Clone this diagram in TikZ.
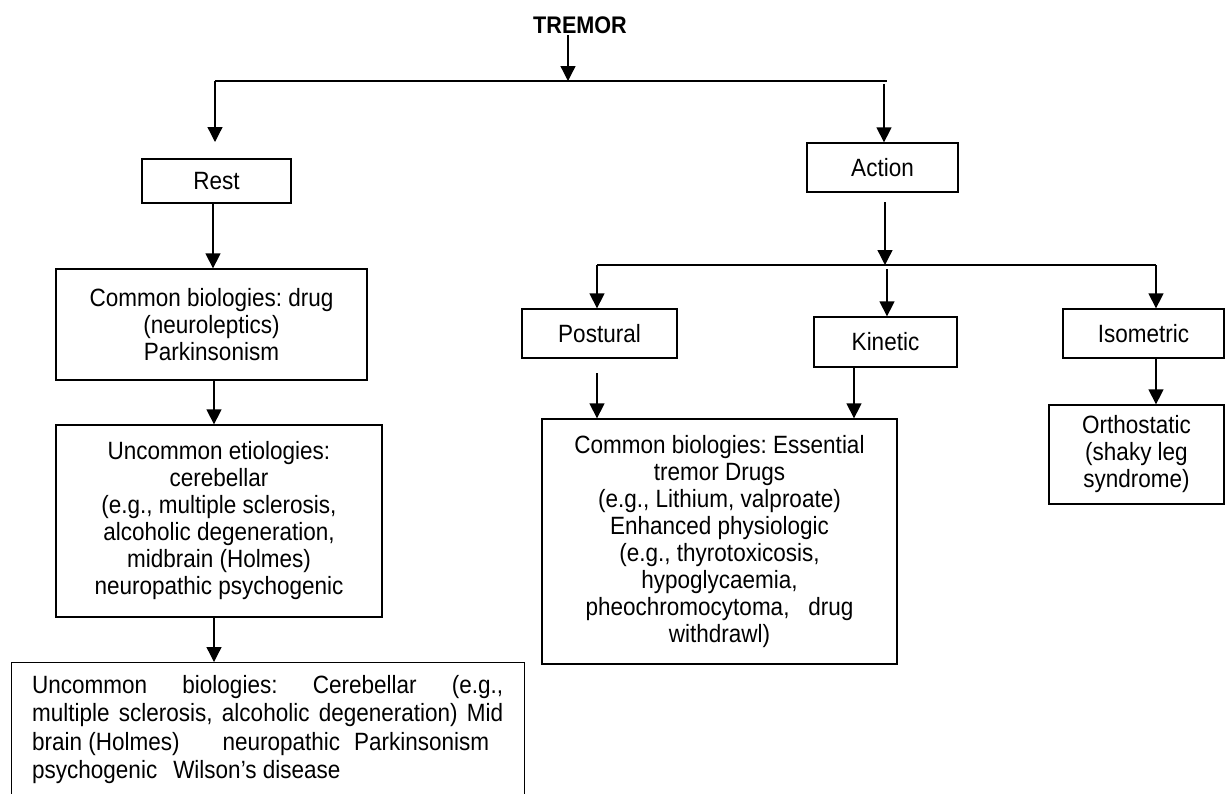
\documentclass[tikz,border=0pt]{standalone}
\usepackage{fontspec}
\setmainfont[FakeStretch=0.9]{Liberation Sans}
\usetikzlibrary{arrows.meta,calc}
\newcommand{\bodyfont}{\fontsize{25}{27}\selectfont\frenchspacing}
\begin{document}
\begin{tikzpicture}[x=1pt,y=-1pt,
  box/.style={draw,line width=1.3pt,inner sep=0pt,align=center,font=\bodyfont},
  arr/.style={line width=1.3pt,-{Triangle[length=15pt,width=15pt]}},
  ln/.style={line width=1.3pt}]
\useasboundingbox (0,0) rectangle (1226,793);
% title
\node[font=\bfseries\fontsize{24}{26}\selectfont,inner sep=0pt] (tremor) at (580,25) {TREMOR};
% boxes
\node[box,minimum width=149pt,minimum height=44pt] (rest) at (216.5,181) {Rest};
\node[box,minimum width=151pt,minimum height=49pt] (action) at (882.5,167.5) {Action};
\node[box,minimum width=311pt,minimum height=111pt] (common1) at (211.5,324.5)
  {Common biologies: drug\\(neuroleptics)\\Parkinsonism};
\node[box,minimum width=326pt,minimum height=192pt] (uncommon1) at (219,521)
  {Uncommon etiologies:\\cerebellar\\(e.g., multiple sclerosis,\\alcoholic degeneration,\\midbrain (Holmes)\\neuropathic psychogenic};
\node[draw,line width=1.3pt,inner sep=0pt,anchor=north west,minimum width=513pt,minimum height=145pt] (bottom) at (11,662) {};
\node[anchor=north west,inner sep=0pt,align=left,font=\fontsize{25}{28.5}\selectfont\frenchspacing] (btext) at (32,675)
  {\makebox[471pt][s]{Uncommon biologies: Cerebellar (e.g.,}\\
   \makebox[471pt][s]{multiple sclerosis, alcoholic degeneration) Mid}\\
   \hbox to 457pt{brain (Holmes)\hfill neuropathic\hspace{14pt}Parkinsonism}\\
   psychogenic\hspace{16pt}Wilson’s disease};
\node[box,minimum width=155pt,minimum height=49pt] (postural) at (599.5,333.5) {Postural};
\node[box,minimum width=143pt,minimum height=50pt] (kinetic) at (885.5,342) {Kinetic};
\node[box,minimum width=161pt,minimum height=49pt] (isometric) at (1143.5,333.5) {Isometric};
\node[box,minimum width=175pt,minimum height=99pt] (ortho) at (1136.5,454.5)
  {Orthostatic\\(shaky leg\\syndrome)};
\node[box,minimum width=355pt,minimum height=245pt] (common2) at (719.5,541.5)
  {Common biologies: Essential\\tremor Drugs\\(e.g., Lithium, valproate)\\Enhanced physiologic\\(e.g., thyrotoxicosis,\\hypoglycaemia,\\pheochromocytoma,\ \ \ drug\\withdrawl)};
% coordinates
\coordinate (tA) at (568,35);
\coordinate (tB) at (568,81);
\coordinate (hL) at (215,81);
\coordinate (hR) at (887,81);
\coordinate (rA) at (884,84);
\coordinate (restin) at (215,142);
\coordinate (aA) at (885,202);
\coordinate (aB) at (885,265);
\coordinate (gL) at (597,265);
\coordinate (gR) at (1156,265);
\coordinate (gM) at (887,269);
\coordinate (pA) at (597,373);
% connectors
\draw[arr] (tA) -- (tB);
\draw[ln] (hL) -- (hR);
\draw[arr] (hL) -- (restin);
\draw[arr] (rA) -- (rA |- action.north);
\draw[arr] (rest.south -| 213,0) -- (common1.north -| 213,0);
\draw[arr] (common1.south -| 214,0) -- (uncommon1.north -| 214,0);
\draw[arr] (uncommon1.south -| 214,0) -- (bottom.north -| 214,0);
\draw[arr] (aA) -- (aB);
\draw[ln] (gL) -- (gR);
\draw[arr] (gL) -- (gL |- postural.north);
\draw[arr] (gM) -- (gM |- kinetic.north);
\draw[arr] (gR) -- (gR |- isometric.north);
\draw[arr] (pA) -- (pA |- common2.north);
\draw[arr] (kinetic.south -| 854,0) -- (common2.north -| 854,0);
\draw[arr] (isometric.south -| 1156,0) -- (ortho.north -| 1156,0);
\end{tikzpicture}
\end{document}
